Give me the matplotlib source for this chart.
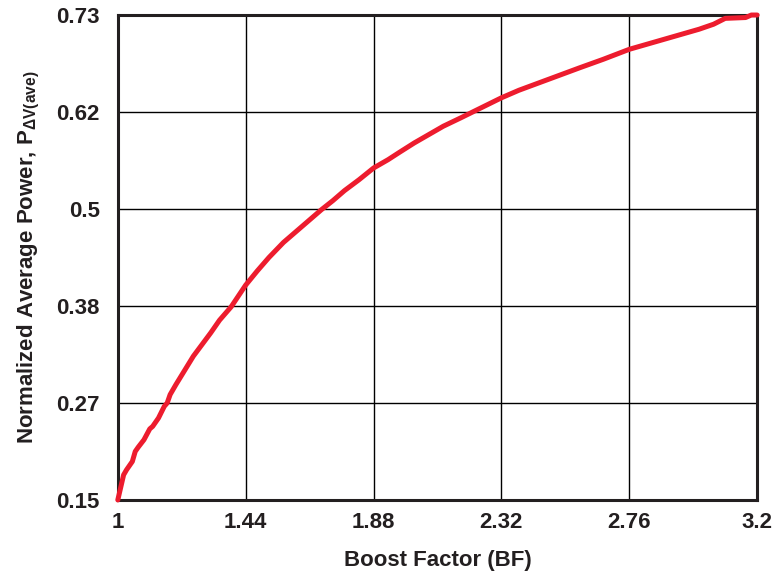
import matplotlib.pyplot as plt
import matplotlib

matplotlib.rcParams['font.family'] = 'Liberation Sans'
matplotlib.rcParams['font.weight'] = 'bold'
matplotlib.rcParams['mathtext.fontset'] = 'custom'
matplotlib.rcParams['mathtext.rm'] = 'Liberation Sans:bold'
matplotlib.rcParams['mathtext.it'] = 'Liberation Sans:bold'
matplotlib.rcParams['mathtext.bf'] = 'Liberation Sans:bold'

# Boost factor vs normalized average power
boost = [1.00, 1.01, 1.02, 1.03, 1.05, 1.06, 1.07, 1.09, 1.11, 1.12, 1.14, 1.16, 1.17,
         1.18, 1.20, 1.23, 1.26, 1.29, 1.32, 1.35, 1.39, 1.44, 1.48, 1.52, 1.57, 1.63,
         1.70, 1.74, 1.78, 1.83, 1.88, 1.93, 1.97, 2.02, 2.07, 2.12, 2.18,
         2.25, 2.32, 2.38, 2.45, 2.52, 2.59, 2.67, 2.76, 2.84, 2.93, 3.00,
         3.05, 3.09, 3.16, 3.18, 3.20]
power = [0.150, 0.165, 0.180, 0.186, 0.196, 0.208, 0.213, 0.222, 0.235, 0.238, 0.248,
         0.262, 0.266, 0.276, 0.288, 0.305, 0.322, 0.336, 0.350, 0.365, 0.381, 0.407,
         0.424, 0.440, 0.458, 0.476, 0.497, 0.508, 0.520, 0.533, 0.547, 0.557, 0.566,
         0.577, 0.587, 0.597, 0.607, 0.619, 0.631, 0.640, 0.649, 0.658, 0.667, 0.677,
         0.689, 0.697, 0.706, 0.713, 0.719, 0.726, 0.727, 0.730, 0.730]

x_ticks = [1, 1.44, 1.88, 2.32, 2.76, 3.2]
x_labels = ['1', '1.44', '1.88', '2.32', '2.76', '3.2']
y_ticks = [0.15, 0.266, 0.382, 0.498, 0.614, 0.73]
y_labels = ['0.15', '0.27', '0.38', '0.5', '0.62', '0.73']

fig = plt.figure(figsize=(7.75, 5.78), dpi=100)
ax = fig.add_axes([0.152, 0.135, 0.825, 0.839])

ax.plot(boost, power, color='#ED1C2E', linewidth=3.6, solid_joinstyle='round',
        solid_capstyle='round', zorder=3, clip_on=False)

ax.set_xlim(1, 3.2)
ax.set_ylim(0.15, 0.73)
ax.set_xticks(x_ticks)
ax.set_xticklabels(x_labels, fontsize=16, fontweight='bold')
ax.set_yticks(y_ticks)
ax.set_yticklabels(y_labels, fontsize=16, fontweight='bold')
ax.tick_params(axis='x', length=0, pad=9, colors='#231F20')
ax.tick_params(axis='y', length=0, pad=13, colors='#231F20')
ax.grid(True, color='black', linewidth=1.0)
for s in ax.spines.values():
    s.set_linewidth(2.2)
    s.set_color('#231F20')

ax.set_xlabel('Boost Factor (BF)', fontsize=16, fontweight='bold', labelpad=12,
              color='#231F20')
ax.set_ylabel(r'Normalized Average Power, P$_{\Delta V(ave)}$', fontsize=16,
              fontweight='bold', labelpad=10, color='#231F20')

fig.savefig('out.png', dpi=100)
